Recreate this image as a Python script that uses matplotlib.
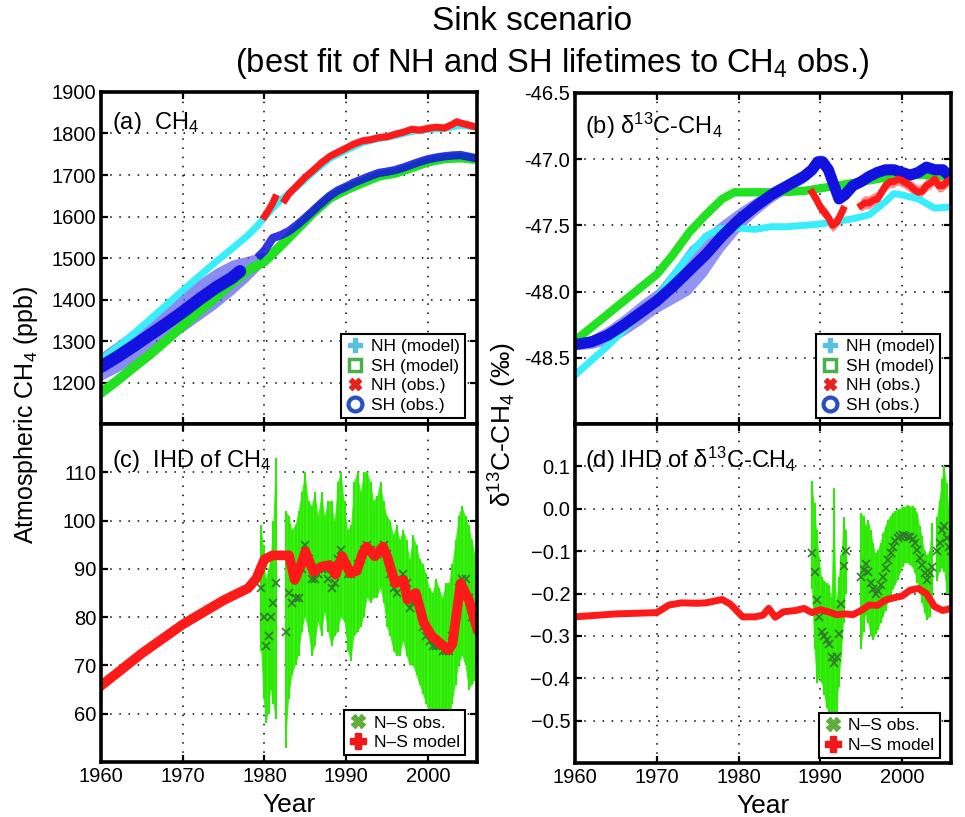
import numpy as np
import matplotlib.pyplot as plt
from matplotlib.lines import Line2D

nan = np.nan

# ---- (a) CH4 ----
nh_model_a_yr = [1960, 1962, 1964, 1966, 1968, 1970, 1972, 1974, 1976, 1978, 1979, 1980, 1981, 1982,
                 1984, 1986, 1988, 1990, 1992, 1994, 1996, 1998, 2000, 2002, 2004, 2006]
nh_model_a = [1255, 1285, 1318, 1352, 1387, 1422, 1456, 1490, 1522, 1555, 1575, 1598, 1620, 1640,
              1672, 1708, 1740, 1760, 1778, 1788, 1795, 1805, 1810, 1812, 1820, 1815]

sh_model_a_yr = [1960, 1962, 1964, 1966, 1968, 1970, 1972, 1974, 1976, 1978, 1980, 1982, 1984,
                 1986, 1988, 1990, 1992, 1994, 1996, 1998, 2000, 2002, 2004, 2006]
sh_model_a = [1175, 1205, 1237, 1268, 1302, 1337, 1372, 1405, 1440, 1470, 1492, 1530, 1570,
              1610, 1645, 1665, 1682, 1698, 1705, 1718, 1732, 1740, 1742, 1738]

sh_band_a_yr = [1960, 1962, 1964, 1966, 1968, 1970, 1972, 1974, 1976, 1978, 1980]
sh_band_a_lo = [1205, 1225, 1248, 1272, 1297, 1322, 1350, 1378, 1410, 1445, 1485]
sh_band_a_hi = [1272, 1300, 1328, 1358, 1388, 1418, 1448, 1475, 1495, 1505, 1515]

sh_obs_a_early_yr = [1960, 1962, 1964, 1966, 1968, 1970, 1972, 1974, 1976, 1977]
sh_obs_a_early = [1238, 1262, 1288, 1315, 1342, 1370, 1400, 1428, 1452, 1468]

sh_obs_a_yr = [1979.5, 1980, 1981, 1982, 1983, 1984, 1985, 1986, 1987, 1988, 1989, 1990, 1991, 1992,
               1993, 1994, 1995, 1996, 1997, 1998, 1999, 2000, 2001, 2002, 2003, 2004, 2005, 2006]
sh_obs_a = [1508, 1518, 1548, 1555, 1565, 1580, 1597, 1615, 1633, 1650, 1663, 1672, 1682, 1690,
            1698, 1705, 1708, 1712, 1718, 1725, 1732, 1738, 1742, 1745, 1747, 1748, 1744, 1740]

nh_obs_a_yr = [1980, 1980.5, 1981, 1981.3, nan, 1982.5, 1983, 1984, 1985, 1986, 1987, 1988, 1989, 1990,
               1991, 1992, 1993, 1994, 1995, 1996, 1997, 1998, 1999, 2000, 2001, 2002, 2003,
               2003.5, 2004, 2005, 2006]
nh_obs_a = [1600, 1615, 1632, 1645, nan, 1640, 1655, 1675, 1695, 1712, 1730, 1745, 1755, 1765,
            1775, 1782, 1785, 1790, 1792, 1798, 1803, 1810, 1808, 1812, 1815, 1813, 1822,
            1828, 1825, 1820, 1815]

# ---- (b) d13C-CH4 ----
nh_model_b_yr = [1960, 1962, 1964, 1966, 1968, 1970, 1972, 1974, 1976, 1978, 1980, 1982, 1984, 1986,
                 1988, 1990, 1992, 1994, 1996, 1998, 1999, 2000, 2002, 2004, 2006]
nh_model_b = [-48.63, -48.52, -48.41, -48.29, -48.17, -48.05, -47.88, -47.72, -47.58, -47.52, -47.52,
              -47.53, -47.51, -47.51, -47.5, -47.49, -47.47, -47.45, -47.42, -47.32, -47.26, -47.27,
              -47.3, -47.37, -47.36]

sh_model_b_yr = [1960, 1962, 1964, 1966, 1968, 1970, 1972, 1974, 1976, 1978, 1979.5, 1982, 1985, 1988,
                 1990, 1992, 1994, 1996, 1998, 2000, 2002, 2004, 2006]
sh_model_b = [-48.37, -48.27, -48.17, -48.07, -47.97, -47.87, -47.72, -47.55, -47.42, -47.3, -47.25,
              -47.25, -47.25, -47.24, -47.22, -47.2, -47.18, -47.16, -47.14, -47.12, -47.12, -47.12, -47.13]

sh_obs_b_yr = [1960, 1962, 1964, 1966, 1968, 1970, 1972, 1974, 1976, 1978, 1980, 1982, 1984, 1986, 1988,
               1989, 1989.7, 1990.3, 1991, 1991.7, 1992.3, 1993, 1994, 1995, 1996, 1997, 1998, 1999,
               2000, 2001, 2002, 2003, 2004, 2005, 2006]
sh_obs_b = [-48.4, -48.38, -48.33, -48.25, -48.16, -48.07, -47.96, -47.84, -47.72, -47.58, -47.46,
            -47.36, -47.27, -47.2, -47.13, -47.08, -47.02, -47.02, -47.08, -47.2, -47.3, -47.27, -47.2,
            -47.17, -47.13, -47.1, -47.08, -47.08, -47.1, -47.12, -47.1, -47.06, -47.08, -47.08, -47.14]
sh_obs_b_err = [0.04, 0.05, 0.07, 0.08, 0.09, 0.09, 0.13, 0.18, 0.16, 0.12, 0.09, 0.07, 0.06, 0.05, 0.05,
                0.05, 0.05, 0.05, 0.04, 0.03, 0.03, 0.03, 0.03, 0.03, 0.03, 0.03, 0.03, 0.03,
                0.03, 0.03, 0.03, 0.03, 0.03, 0.03, 0.03]

nh_obs_b_yr = [1989, 1989.5, 1990, 1990.5, 1991, 1991.5, 1992, 1992.5, 1992.8, nan,
               1995, 1995.5, 1996, 1996.5, 1997, 1997.5, 1998, 1998.5, 1999, 1999.5, 2000, 2000.5,
               2001, 2001.5, 2002, 2002.5, 2003, 2003.5, 2004, 2004.5, 2005, 2005.5, 2006]
nh_obs_b = [-47.25, -47.3, -47.36, -47.4, -47.44, -47.5, -47.48, -47.42, -47.38, nan,
            -47.35, -47.33, -47.33, -47.31, -47.3, -47.25, -47.2, -47.17, -47.17, -47.15, -47.16, -47.18,
            -47.2, -47.23, -47.25, -47.24, -47.2, -47.18, -47.15, -47.2, -47.2, -47.17, -47.15]

# ---- (c) IHD of CH4 ----
model_c_yr = [1960, 1965, 1970, 1975, 1978, 1979, 1980, 1981, 1983, 1983.7, 1984.5, 1985, 1986, 1987,
              1988, 1988.7, 1989.5, 1990.5, 1991.3, 1992, 1992.5, 1993.5, 1994.5, 1995, 1996, 1997,
              1997.5, 1998.5, 1999.5, 2000.5, 2002.5, 2003, 2004, 2005, 2006]
model_c = [65.8, 72.5, 78.5, 83.5, 86, 88, 92, 92.8, 92.8, 87.7, 91, 93.6, 89.4, 90.5,
           90.8, 88.8, 92.6, 89.1, 89.6, 93.2, 94.6, 92.6, 94.6, 92.6, 87, 87.7,
           83.6, 85, 78.8, 76, 73.2, 74.5, 87, 83.6, 77.7]

obs_c_yr = [1979.6, 1979.9, 1980.2, 1980.5, 1980.8, 1981.1, 1981.4, nan,
            1982.6, 1983.0, 1983.4, 1983.8, 1984.2, 1984.6, 1985.0, 1985.4, 1985.8, 1986.2, 1986.6,
            1987.0, 1987.4, 1987.8, 1988.2, 1988.6, 1989.0, 1989.4, 1989.8, 1990.2, 1990.6, 1991.0,
            1991.4, 1991.8, 1992.2, 1992.6, 1993.0, 1993.4, 1993.8, 1994.2, 1994.6, 1995.0, 1995.4,
            1995.8, 1996.2, 1996.6, 1997.0, 1997.4, 1997.8, 1998.2, 1998.6, 1999.0, 1999.4, 1999.8,
            2000.2, 2000.6, 2001.0, 2001.4, 2001.8, 2002.2, 2002.6, 2003.0, 2003.4, 2003.8, 2004.2,
            2004.6, 2005.0, 2005.4, 2005.8, 2006.0]
obs_c = [86, 80, 74, 76, 80, 83, 87, nan,
         77, 85, 83, 84, 84, 90, 95, 92, 88, 88, 89,
         90, 90, 88, 86, 87, 92, 94, 91, 89, 89, 90,
         91, 92, 94, 95, 94, 93, 93, 94, 95, 93, 89,
         86, 85, 88, 89, 87, 82, 83, 84, 82, 78, 76,
         75, 74, 74, 74, 73, 73, 73, 76, 80, 86, 88,
         88, 84, 80, 79, 78]
obs_c_hi = [99, 95, 88, 90, 93, 100, 113, nan,
            102, 101, 98, 99, 102, 106, 110, 104, 103, 106, 101,
            106, 101, 104, 104, 100, 108, 110, 104, 98, 99, 108,
            110, 106, 110, 110, 108, 104, 105, 108, 104, 101, 100,
            97, 99, 96, 98, 96, 92, 97, 95, 92, 91, 89,
            86, 85, 88, 86, 84, 87, 87, 91, 96, 101, 103,
            101, 99, 96, 93, 88]
obs_c_lo = [73, 63, 58, 60, 65, 62, 59, nan,
            53, 63, 68, 70, 72, 77, 80, 77, 72, 74, 79,
            76, 81, 77, 74, 76, 77, 80, 79, 73, 71, 76,
            77, 78, 80, 84, 83, 84, 84, 86, 83, 78, 76,
            73, 72, 72, 75, 72, 70, 70, 68, 66, 64, 62,
            60, 60, 56, 55, 57, 57, 58, 62, 66, 70, 72,
            70, 65, 66, 67, 68]

# ---- (d) IHD of d13C-CH4 ----
model_d_yr = [1960, 1965, 1970, 1971.5, 1973, 1975, 1976, 1978, 1979, 1980.5, 1982, 1983, 1983.7, 1984.5,
              1985.5, 1987, 1988, 1989, 1990, 1991, 1992, 1993, 1994, 1995, 1996, 1997, 1998, 1999,
              2000, 2001, 2002, 2003, 2004, 2005, 2006]
model_d = [-0.255, -0.248, -0.245, -0.227, -0.222, -0.223, -0.222, -0.214, -0.225, -0.255, -0.255,
           -0.251, -0.235, -0.256, -0.243, -0.24, -0.235, -0.245, -0.238, -0.243, -0.25, -0.248,
           -0.25, -0.24, -0.227, -0.228, -0.215, -0.21, -0.206, -0.192, -0.188, -0.2, -0.231, -0.24, -0.235]

obs_d_yr = [1989.0, 1989.3, 1989.6, 1989.9, 1990.2, 1990.5, 1990.8, 1991.1, 1991.4, 1991.7, 1992.0,
            1992.3, 1992.6, 1992.9, 1993.1, nan,
            1995.0, 1995.3, 1995.6, 1995.9, 1996.2, 1996.5, 1996.8, 1997.1, 1997.4, 1997.7, 1998.0,
            1998.3, 1998.6, 1998.9, 1999.2, 1999.5, 1999.8, 2000.1, 2000.4, 2000.7, 2001.0, 2001.3,
            2001.6, 2001.9, 2002.2, 2002.5, 2002.8, 2003.1, 2003.4, 2003.7, nan,
            2004.3, 2004.6, 2004.9, 2005.2, 2005.5, 2005.8, 2006.0]
obs_d = [-0.105, -0.15, -0.215, -0.255, -0.29, -0.3, -0.31, -0.32, -0.35, -0.365, -0.35,
         -0.295, -0.225, -0.135, -0.1, nan,
         -0.16, -0.145, -0.13, -0.15, -0.175, -0.19, -0.2, -0.195, -0.18, -0.16, -0.14,
         -0.12, -0.105, -0.09, -0.077, -0.07, -0.064, -0.062, -0.064, -0.066, -0.067, -0.072,
         -0.081, -0.097, -0.117, -0.133, -0.152, -0.168, -0.152, -0.137, nan,
         -0.1, -0.08, -0.05, -0.04, -0.07, -0.09, -0.1]
obs_d_hi = [0.065, 0.013, -0.05, -0.113, -0.16, -0.17, -0.175, -0.18, -0.21, 0.05, -0.22,
            -0.16, -0.11, -0.02, -0.05, nan,
            -0.01, -0.018, -0.04, -0.026, -0.05, -0.08, -0.105, -0.097, -0.08, -0.058, -0.042,
            -0.026, -0.018, -0.01, -0.006, -0.002, 0.0, 0.005, 0.004, 0.01, 0.005, 0.007,
            0.0, -0.01, -0.04, -0.065, -0.1, -0.11, -0.1, -0.034, nan,
            -0.02, 0.02, 0.07, 0.1, 0.06, 0.0, -0.05]
obs_d_lo = [-0.19, -0.33, -0.41, -0.4, -0.41, -0.44, -0.47, -0.48, -0.52, -0.5, -0.48,
            -0.42, -0.35, -0.27, -0.2, nan,
            -0.33, -0.29, -0.25, -0.27, -0.3, -0.31, -0.295, -0.285, -0.27, -0.255, -0.24,
            -0.223, -0.207, -0.19, -0.18, -0.168, -0.152, -0.137, -0.128, -0.128, -0.133, -0.137,
            -0.152, -0.176, -0.2, -0.223, -0.247, -0.263, -0.255, -0.223, nan,
            -0.17, -0.15, -0.14, -0.15, -0.2, -0.2, -0.2]

ylabels_b = ['-48.5', '-48.0', '-47.5', '-47.0', '-46.5']
yticks_b = [-48.5, -48.0, -47.5, -47.0, -46.5]
ylabels_d = ['\u22120.5', '\u22120.4', '\u22120.3', '\u22120.2', '\u22120.1', '0.0', '0.1']
yticks_d = [-0.5, -0.4, -0.3, -0.2, -0.1, 0.0, 0.1]
xticks = [1960, 1970, 1980, 1990, 2000]

CYAN = '#38eefc'
GREEN = '#22e022'
RED = '#ff1a1a'
BLUE = '#1212e0'
BAND = '#5a5af0'
OBS_GREEN = '#3af510'
MARK_GREEN = '#2f7a2a'

plt.rcParams['font.family'] = 'Liberation Sans'
plt.rcParams['mathtext.fontset'] = 'custom'
plt.rcParams['mathtext.rm'] = 'Liberation Sans'
plt.rcParams['mathtext.default'] = 'regular'

fig = plt.figure(figsize=(9.65, 8.17), dpi=100)
ax_a = fig.add_axes([0.1047, 0.481, 0.3896, 0.4064])
ax_c = fig.add_axes([0.1047, 0.0673, 0.3896, 0.4137])
ax_b = fig.add_axes([0.5959, 0.481, 0.3896, 0.4052])
ax_d = fig.add_axes([0.5959, 0.066, 0.3896, 0.415])


def style(ax, show_x):
    for s in ax.spines.values():
        s.set_linewidth(2.6)
    ax.tick_params(direction='in', top=True, right=True, length=5, width=1.6,
                   labelsize=14.5, labelbottom=show_x)
    ax.grid(True, color='k', lw=1.1, ls=(0, (1, 5)))
    ax.set_xlim(1960, 2006)
    ax.set_xticks(xticks)
    ax.set_axisbelow(True)


# (a)
ax_a.plot(sh_model_a_yr, sh_model_a, color=GREEN, lw=7, solid_capstyle='round')
ax_a.fill_between(sh_band_a_yr, sh_band_a_lo, sh_band_a_hi, color=BAND, alpha=0.7, lw=0)
ax_a.plot(nh_model_a_yr, nh_model_a, color=CYAN, lw=5)
ax_a.plot(sh_obs_a_early_yr, sh_obs_a_early, color=BLUE, lw=9, solid_capstyle='round')
ax_a.plot(sh_obs_a_yr, sh_obs_a, color=BLUE, lw=6, alpha=0.85)
ax_a.fill_between(nh_obs_a_yr, np.array(nh_obs_a) - 9, np.array(nh_obs_a) + 9, color='#ff5050', alpha=0.8, lw=0)
ax_a.plot(nh_obs_a_yr, nh_obs_a, color=RED, lw=5)
ax_a.set_ylim(1100, 1900)
ax_a.set_yticks([1200, 1300, 1400, 1500, 1600, 1700, 1800, 1900])
style(ax_a, False)
ax_a.text(0.03, 0.945, '(a)  CH$_4$', transform=ax_a.transAxes, fontsize=17, va='top')

# (b)
ax_b.plot(nh_model_b_yr, nh_model_b, color=CYAN, lw=5)
ax_b.plot(sh_model_b_yr, sh_model_b, color=GREEN, lw=6)
sb = np.array(sh_obs_b)
eb = np.array(sh_obs_b_err)
ax_b.fill_between(sh_obs_b_yr, sb - eb, sb + eb, color=BAND, alpha=0.65, lw=0)
ax_b.plot(sh_obs_b_yr, sh_obs_b, color=BLUE, lw=8)
nb = np.array(nh_obs_b)
ax_b.fill_between(nh_obs_b_yr, nb - 0.05, nb + 0.05, color='#ff6060', alpha=0.7, lw=0)
ax_b.plot(nh_obs_b_yr, nh_obs_b, color=RED, lw=5)
ax_b.set_ylim(-49.0, -46.5)
ax_b.set_yticks(yticks_b)
ax_b.set_yticklabels(ylabels_b)
style(ax_b, False)
ax_b.text(0.027, 0.945, '(b) \u03b4$^{13}$C-CH$_4$', transform=ax_b.transAxes, fontsize=17, va='top')

# (c)
ax_c.fill_between(obs_c_yr, obs_c_lo, obs_c_hi, color=OBS_GREEN, lw=0)
ax_c.vlines(obs_c_yr, obs_c_lo, obs_c_hi, color='#2fe80a', lw=1.5)
ax_c.plot(obs_c_yr, obs_c, ls='none', marker='x', color=MARK_GREEN, ms=6, mew=1.2)
ax_c.plot(model_c_yr, model_c, color=RED, lw=7)
ax_c.set_ylim(50, 120)
ax_c.set_yticks([60, 70, 80, 90, 100, 110])
style(ax_c, True)
ax_c.text(0.03, 0.93, '(c)  IHD of CH$_4$', transform=ax_c.transAxes, fontsize=17, va='top')
ax_c.set_xlabel('Year', fontsize=19, labelpad=5)

# (d)
ax_d.fill_between(obs_d_yr, obs_d_lo, obs_d_hi, color=OBS_GREEN, lw=0)
ax_d.vlines(obs_d_yr, obs_d_lo, obs_d_hi, color='#2fe80a', lw=1.5)
ax_d.plot(obs_d_yr, obs_d, ls='none', marker='x', color=MARK_GREEN, ms=6, mew=1.2)
ax_d.plot(model_d_yr, model_d, color=RED, lw=5)
ax_d.set_ylim(-0.6, 0.2)
ax_d.set_yticks(yticks_d)
ax_d.set_yticklabels(ylabels_d)
style(ax_d, True)
ax_d.text(0.027, 0.94, '(d) IHD of \u03b4$^{13}$C-CH$_4$', transform=ax_d.transAxes, fontsize=17, va='top')
ax_d.set_xlabel('Year', fontsize=19, labelpad=5)

# legends
h_ab = [Line2D([], [], ls='none', marker='P', color='#5bc0e0', ms=10),
        Line2D([], [], ls='none', marker='s', mfc='none', mec='#4cae4c', mew=2.5, ms=8),
        Line2D([], [], ls='none', marker='X', color='#e82020', ms=9),
        Line2D([], [], ls='none', marker='o', mfc='none', mec='#2a4fc0', mew=3, ms=10)]
l_ab = ['NH (model)', 'SH (model)', 'NH (obs.)', 'SH (obs.)']
h_cd = [Line2D([], [], ls='none', marker='X', color='#5fae3a', ms=10),
        Line2D([], [], ls='none', marker='P', color='#f01818', ms=11)]
l_cd = ['N\u2013S obs.', 'N\u2013S model']

leg_kw = dict(loc='lower right', fontsize=12.5, handlelength=1.0, handletextpad=0.4,
              labelspacing=0.25, borderpad=0.3, borderaxespad=0, fancybox=False,
              framealpha=1, edgecolor='k')
for ax, h, l, anc in [(ax_a, h_ab, l_ab, (0.968, 0.018)), (ax_b, h_ab, l_ab, (0.97, 0.018)),
                      (ax_c, h_cd, l_cd, (0.968, 0.02)), (ax_d, h_cd, l_cd, (0.97, 0.015))]:
    lg = ax.legend(h, l, bbox_to_anchor=anc, **leg_kw)
    lg.get_frame().set_linewidth(1.5)

fig.text(0.027, 0.492, 'Atmospheric CH$_4$ (ppb)', rotation=90, fontsize=18, ha='center', va='center')
fig.text(0.521, 0.481, '\u03b4$^{13}$C-CH$_4$ (\u2030)', rotation=90, fontsize=19, ha='center', va='center')

fig.text(0.551, 0.974, 'Sink scenario', fontsize=24, ha='center', va='center')
fig.text(0.572, 0.922, '(best fit of NH and SH lifetimes to CH$_4$ obs.)', fontsize=23.5, ha='center', va='center')

fig.savefig('out.png', dpi=100)
